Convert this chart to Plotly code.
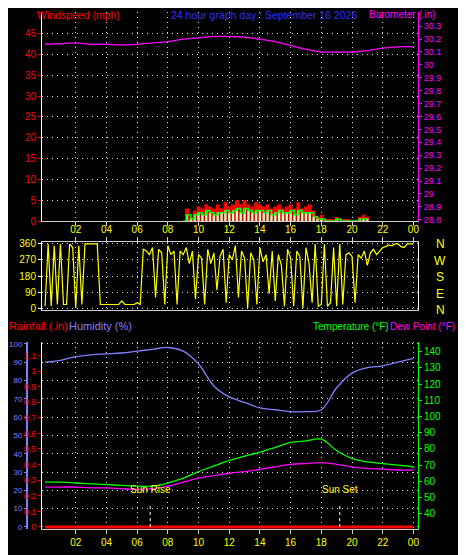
import plotly.graph_objects as go

# hourly values, hour 0..24
hours = list(range(25))
pressure = [30.16, 30.165, 30.17, 30.16, 30.16, 30.155, 30.16, 30.17, 30.18, 30.2, 30.21, 30.22,
            30.22, 30.215, 30.2, 30.18, 30.15, 30.12, 30.1, 30.1, 30.1, 30.11, 30.13, 30.14, 30.14]
humidity = [90, 91, 93, 94, 94.5, 95, 96, 97, 98, 96, 89, 77, 71, 68, 65, 64, 63, 63, 64, 76, 84, 87, 88, 90, 92]
temperature = [59.7, 59.5, 59, 58.5, 58, 57.5, 57, 57, 59, 62, 66, 69.5, 73, 75.5, 78, 81, 84, 85, 86, 79,
               74, 72, 71, 70, 69]
dewpoint = [56.5, 56.5, 56.5, 56, 56, 55.5, 55, 55.5, 57, 59.5, 62, 63.5, 65, 66, 67.5, 69, 70.5, 71, 71.5,
            70.5, 69, 68, 67.5, 67, 67]
rainfall = [0] * 25
pressure_ticks = [28.8, 28.9, 29.0, 29.1, 29.2, 29.3, 29.4, 29.5, 29.6, 29.7, 29.8, 29.9, 30.0, 30.1, 30.2, 30.3]

# wind, quarter hours from 09:00 to 21:00
wind_hours = [9 + i * 0.25 for i in range(49)]
gust = [0, 3, 1, 2.5, 3.5, 3, 4, 3.5, 3, 4, 3, 4.5, 3.5, 4, 5, 4, 5, 4, 3.5, 4.5, 4, 3.5, 4, 3, 3.5, 4, 3,
        3.5, 4, 3, 4.5, 3, 3.5, 4, 2.5, 1, 1.5, 0.5, 0.5, 0.5, 1, 0.5, 0.5, 0.5, 0, 0, 1, 1.5, 1]
speed = [0, 1.5, 0.5, 1.5, 2, 1.5, 2.5, 2, 1.5, 2, 2, 2.5, 2, 2.5, 3, 2, 3, 2.5, 2, 2.5, 2.5, 2, 2.5, 1.5,
         2, 2.5, 2, 2, 2.5, 1.5, 2.5, 2, 2, 2, 1, 0.5, 0.5, 0, 0, 0, 0.5, 0, 0, 0, 0, 0, 0.5, 0.5, 0.5]

# wind direction, every 0.2 h
direction = [10, 360, 10, 350, 20, 360, 20, 20, 360, 340, 0, 350, 20, 360, 360, 360, 360, 360, 20,
             20, 20, 20, 20, 20, 20, 40, 20, 20, 20, 20, 30, 20,
             330, 320, 300, 340, 60, 330, 310, 20, 350, 300, 320, 20, 320, 300, 340, 250, 320, 50,
             300, 280, 20, 330, 250, 310, 100, 290, 330, 30, 300, 270, 350, 60, 320, 280, 0, 310,
             270, 20, 340, 260, 300, 80, 320, 40, 300, 240, 10, 330, 280, 10, 320, 290, 0, 340, 250,
             30, 360, 10, 20, 360, 10, 30, 340, 10, 360, 20, 300, 310, 290, 30, 300, 280, 320, 240,
             310, 330, 300, 320, 340, 345, 355, 350, 360, 360, 345, 340, 360, 360, 360]
dir_hours = [round(i * 24 / (len(direction) - 1), 2) for i in range(len(direction))]

hour_ticks = list(range(2, 25, 2))
hour_text = ['%02d' % (h % 24) for h in hour_ticks]

# page has an 8px body margin, so lay out in screen pixels minus 8
OFF = 8
W, H = 466 - OFF, 555 - OFF
def px(x): return (x - OFF) / W
def py(y): return 1 - (y - OFF) / H

XD = [px(42), px(418)]
font = 'Liberation Sans'
grid = dict(showgrid=True, gridcolor='#dddddd', griddash='1px,4px', gridwidth=1)

fig = go.Figure()
# top panel
fig.add_trace(go.Bar(x=wind_hours, y=gust, marker_color='red', marker_line_width=0, width=0.25,
                     xaxis='x', yaxis='y'))
fig.add_trace(go.Bar(x=wind_hours, y=speed, marker_color='#ccffcc', marker_line_width=0, width=0.15,
                     xaxis='x', yaxis='y'))
fig.add_trace(go.Scatter(x=wind_hours, y=speed, mode='lines', line=dict(color='#00ff00', width=1.5, shape='hv'),
                         xaxis='x', yaxis='y'))
fig.add_trace(go.Scatter(x=hours, y=pressure, mode='lines', line=dict(color='#ff00ff', width=1.3, shape='spline'),
                         xaxis='x', yaxis='y2'))
# direction panel
fig.add_trace(go.Scatter(x=dir_hours, y=direction, mode='lines', line=dict(color='yellow', width=1.2),
                         xaxis='x2', yaxis='y3'))
# bottom panel
fig.add_trace(go.Scatter(x=hours, y=rainfall, mode='lines', line=dict(color='red', width=3),
                         xaxis='x3', yaxis='y5'))
fig.add_trace(go.Scatter(x=hours, y=humidity, mode='lines', line=dict(color='#8080ff', width=1.3, shape='spline'),
                         xaxis='x3', yaxis='y4'))
fig.add_trace(go.Scatter(x=hours, y=temperature, mode='lines', line=dict(color='#00ff00', width=1.3, shape='spline'),
                         xaxis='x3', yaxis='y6'))
fig.add_trace(go.Scatter(x=hours, y=dewpoint, mode='lines', line=dict(color='#ff00ff', width=1.3, shape='spline'),
                         xaxis='x3', yaxis='y6'))

xcommon = dict(range=[-0.2, 24.3], domain=XD, tickvals=hour_ticks, ticktext=hour_text, automargin=False,
               tickfont=dict(color='yellow', size=10, family=font), showline=True, linecolor='#cccccc',
               ticks='outside', tickcolor='#cccccc', ticklen=4, zeroline=False, **grid)
ycommon = dict(automargin=False, ticks='outside', ticklen=3, zeroline=False, showline=True)

fig.update_layout(
    width=W, height=H, margin=dict(l=0, r=0, t=0, b=0, autoexpand=False),
    paper_bgcolor='black', plot_bgcolor='black', showlegend=False, barmode='overlay',
    font=dict(family=font, size=10),
    xaxis=dict(anchor='y', showticklabels=False, **xcommon),
    xaxis2=dict(anchor='y3', side='top', mirror=True, **xcommon),
    xaxis3=dict(anchor='y5', **xcommon),
    yaxis=dict(domain=[py(221), py(12)], range=[0, 50.2], dtick=5, tickfont=dict(color='red', size=10),
               linecolor='white', tickcolor='red', **ycommon, **grid),
    yaxis2=dict(overlaying='y', side='right', anchor='x', range=[28.79, 30.41], tickvals=pressure_ticks,
                tickfont=dict(color='#ff00ff', size=9), linecolor='#ff00ff',
                tickcolor='#ff00ff', showgrid=False, **ycommon),
    yaxis3=dict(domain=[py(310), py(242)], range=[-11, 371], tickvals=[0, 90, 180, 270, 360],
                tickfont=dict(color='yellow', size=10), linecolor='white', mirror=True,
                tickcolor='white', **ycommon, **grid),
    yaxis4=dict(domain=[py(529), py(342)], anchor='free', position=px(27), range=[-1.1, 101], dtick=10,
                tickfont=dict(color='#8080ff', size=8), linecolor='#8080ff', linewidth=2,
                tickcolor='#8080ff', ticklen=2, automargin=False, ticks='outside', zeroline=False,
                showline=True, **grid),
    yaxis5=dict(overlaying='y4', anchor='x3', range=[-0.013, 1.186], dtick=0.1,
                tickfont=dict(color='red', size=9), linecolor='white',
                tickcolor='red', showgrid=False, **ycommon),
    yaxis6=dict(overlaying='y4', side='right', anchor='x3', range=[30.6, 146], tickvals=list(range(40, 150, 10)),
                tickfont=dict(color='#00ff00', size=10), linecolor='#00ff00',
                tickcolor='#00ff00', showgrid=False, **ycommon),
)

def label(x, y, text, color, anchor='left', size=11, yanchor='middle'):
    fig.add_annotation(x=px(x), y=py(y), xref='paper', yref='paper', text=text, showarrow=False,
                       xanchor=anchor, yanchor=yanchor, borderpad=0,
                       font=dict(color=color, size=size, family=font))

label(36, 8, 'Windspeed (mph)', 'red', size=10.5, yanchor='top')
label(170, 8, '24 hour graph day : September 16 2026', '#3030ff', size=10.5, yanchor='top')
label(368, 8, 'Barometer (.in)', '#ff00ff', size=10, yanchor='top')
label(8, 326, 'Rainfall (.in)', 'red')
label(68, 326, 'Humidity (%)', '#8080ff')
label(312, 326, 'Temperature (°F)', '#00ff00', size=10)
label(389, 326, 'Dew Point (°F)', '#ff00ff', size=10)
for i, t in enumerate(['N', 'W', 'S', 'E', 'N']):
    label(440, 244 + i * 16.5, t, 'yellow', anchor='center', size=12)

for h, t in [(6.85, 'Sun Rise'), (19.2, 'Sun Set')]:
    fig.add_shape(type='line', xref='x3', yref='paper', x0=h, x1=h, y0=py(527), y1=py(504),
                  line=dict(color='white', width=1, dash='dot'))
    fig.add_annotation(x=h, xref='x3', y=py(497), yref='paper', text=t, showarrow=False,
                       font=dict(color='yellow', size=10, family=font))

fig.write_html('out.html')
